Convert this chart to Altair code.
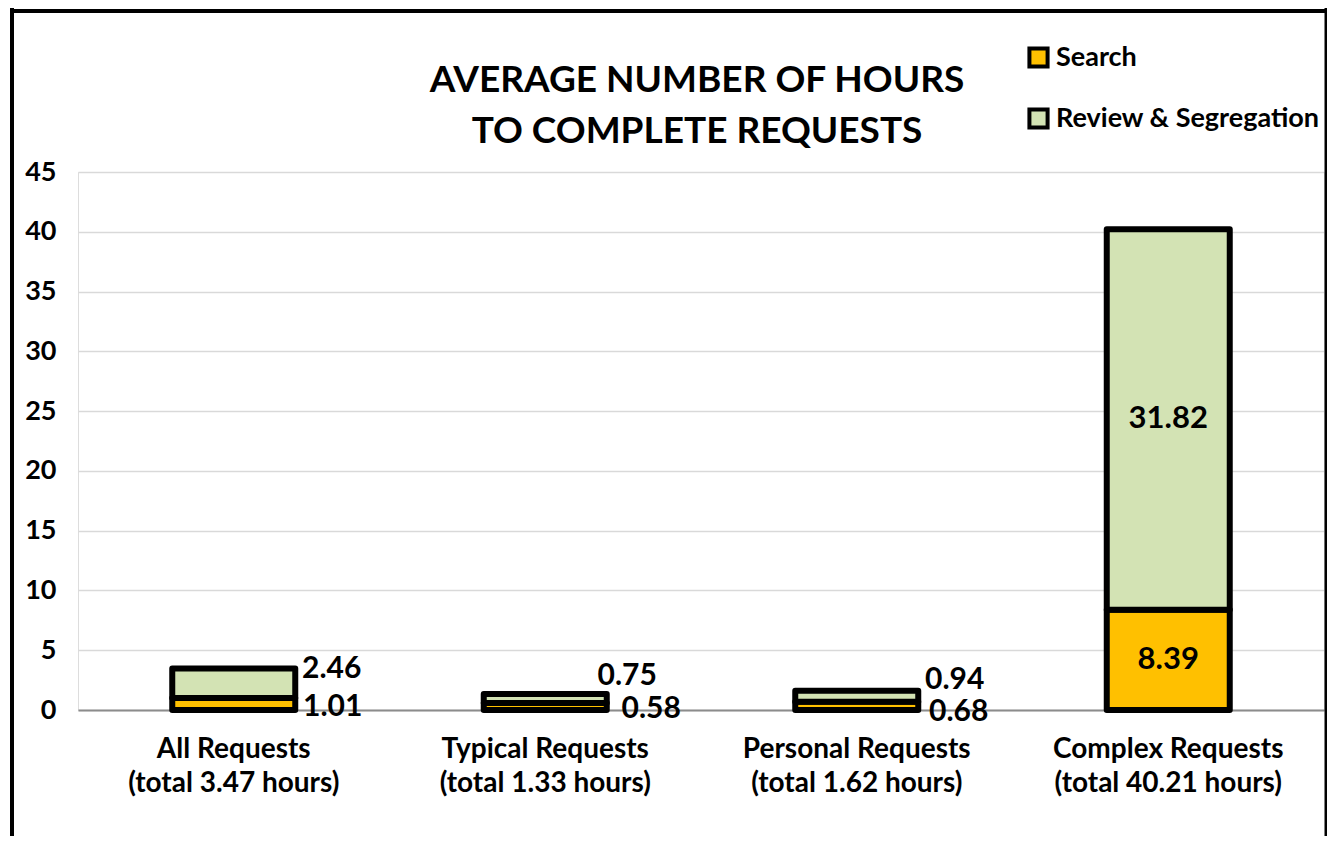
import altair as alt
import pandas as pd

categories = ["All Requests", "Typical  Requests", "Personal Requests", "Complex Requests"]
totals = [3.47, 1.33, 1.62, 40.21]
search = [1.01, 0.58, 0.68, 8.39]
review = [2.46, 0.75, 0.94, 31.82]
segments = ["Search", "Review & Segregation"]
seg_colors = ["#FFC000", "#D3E3B4"]
y_ticks = [0, 5, 10, 15, 20, 25, 30, 35, 40, 45]
title_lines = ["AVERAGE NUMBER OF HOURS", "TO COMPLETE REQUESTS"]

FONT = "Lato"
W, H = 1246, 538

rows = []
for c, t, s, r in zip(categories, totals, search, review):
    lab = f"{c}\n(total {t:.2f} hours)"
    rows.append({"cat": lab, "seg": "Search", "val": s, "ord": 0})
    rows.append({"cat": lab, "seg": "Review & Segregation", "val": r, "ord": 1})
df = pd.DataFrame(rows)
cat_labels = list(dict.fromkeys(df["cat"]))

x_enc = alt.X("cat:N", sort=cat_labels, title=None,
              scale=alt.Scale(paddingInner=0.6, paddingOuter=0.3),
              axis=alt.Axis(labelExpr="split(datum.label, '\\n')", labelAngle=0,
                            labelFont=FONT, labelFontSize=28, labelFontWeight="bold",
                            labelColor="#000", labelPadding=25, labelLineHeight=34,
                            labelLimit=500,
                            ticks=False, domainColor="#8c8c8c", domainWidth=2,
                            labelBaseline="top"))
y_scale = alt.Scale(domain=[0, 45], nice=False)

base = alt.Chart(df).transform_stack(
    stack="val", groupby=["cat"], as_=["y0", "y1"],
    sort=[alt.SortField("ord", order="ascending")]
).transform_calculate(mid="(datum.y0 + datum.y1) / 2")

bars = base.mark_bar(stroke="#000", strokeWidth=6, strokeJoin="round", size=123).encode(
    x=x_enc,
    y=alt.Y("y0:Q", scale=y_scale, title=None,
            axis=alt.Axis(values=y_ticks, labelFont=FONT, labelFontSize=27,
                          labelFontWeight="bold", labelColor="#000", labelPadding=22,
                          ticks=False, domain=False, gridColor="#d9d9d9", gridWidth=1.5)),
    y2="y1:Q",
    color=alt.Color("seg:N", title=None,
                    scale=alt.Scale(domain=segments, range=seg_colors),
                    legend=alt.Legend(orient="none", legendX=947, legendY=-128,
                                      symbolType="square", symbolSize=330,
                                      symbolStrokeColor="#000", symbolStrokeWidth=4,
                                      labelFont=FONT, labelFontSize=27,
                                      labelFontWeight="bold", labelColor="#000",
                                      labelOffset=4, rowPadding=26, labelLimit=400,
                                      padding=0)),
)

inside = base.mark_text(font=FONT, fontSize=31, fontWeight="bold", color="#000",
                        baseline="middle", align="center").encode(
    x=alt.X("cat:N", sort=cat_labels),
    y=alt.Y("mid:Q", scale=y_scale),
    text=alt.Text("val:Q", format=".2f"),
).transform_filter(alt.datum.cat == cat_labels[3])

# label offsets for the small bars (review label, search label)
rev_dx = [98, 82, 98]
rev_dy = [0, -18, -11]
srch_dx = [99, 106, 102]
srch_dy = [-3, -1, 2]

layers = [bars, inside]
for i in range(3):
    layers.append(base.mark_text(font=FONT, fontSize=30, fontWeight="bold", color="#000",
                                 baseline="middle", align="center",
                                 dx=rev_dx[i], dy=rev_dy[i]).encode(
        x=alt.X("cat:N", sort=cat_labels),
        y=alt.Y("y1:Q", scale=y_scale),
        text=alt.Text("val:Q", format=".2f"),
    ).transform_filter((alt.datum.cat == cat_labels[i]) & (alt.datum.ord == 1)))
    layers.append(base.mark_text(font=FONT, fontSize=30, fontWeight="bold", color="#000",
                                 baseline="middle", align="center",
                                 dx=srch_dx[i], dy=srch_dy[i]).encode(
        x=alt.X("cat:N", sort=cat_labels),
        y=alt.Y("y0:Q", scale=y_scale),
        text=alt.Text("val:Q", format=".2f"),
    ).transform_filter((alt.datum.cat == cat_labels[i]) & (alt.datum.ord == 0)))

frame_df = pd.DataFrame({"k": [0]})
frame = alt.Chart(frame_df)
left_rule = frame.mark_rule(color="#000", strokeWidth=4).encode(
    x=alt.value(-66), y=alt.value(-164), y2=alt.value(700))
top_rule = frame.mark_rule(color="#000", strokeWidth=4).encode(
    x=alt.value(-68), x2=alt.value(W + 4), y=alt.value(-161))
right_rule = frame.mark_rule(color="#000", strokeWidth=3).encode(
    x=alt.value(W + 2), y=alt.value(-164), y2=alt.value(700))
title1 = frame.mark_text(font=FONT, fontSize=37, fontWeight="bold", color="#000",
                         align="center", baseline="alphabetic").encode(
    x=alt.value(619), y=alt.value(-80), text=alt.value(title_lines[0]))
title2 = frame.mark_text(font=FONT, fontSize=37, fontWeight="bold", color="#000",
                         align="center", baseline="alphabetic").encode(
    x=alt.value(619), y=alt.value(-29), text=alt.value(title_lines[1]))
layers += [left_rule, top_rule, right_rule, title1, title2]

chart = alt.layer(*layers).properties(
    width=W, height=H,
    autosize=alt.AutoSizeParams(type="none"),
    padding={"left": 70, "top": 164, "right": 3, "bottom": 126},
).configure_view(stroke="#000", strokeWidth=2).configure(background="white")

chart.save("out.html", embed_options={"renderer": "svg", "actions": False})
